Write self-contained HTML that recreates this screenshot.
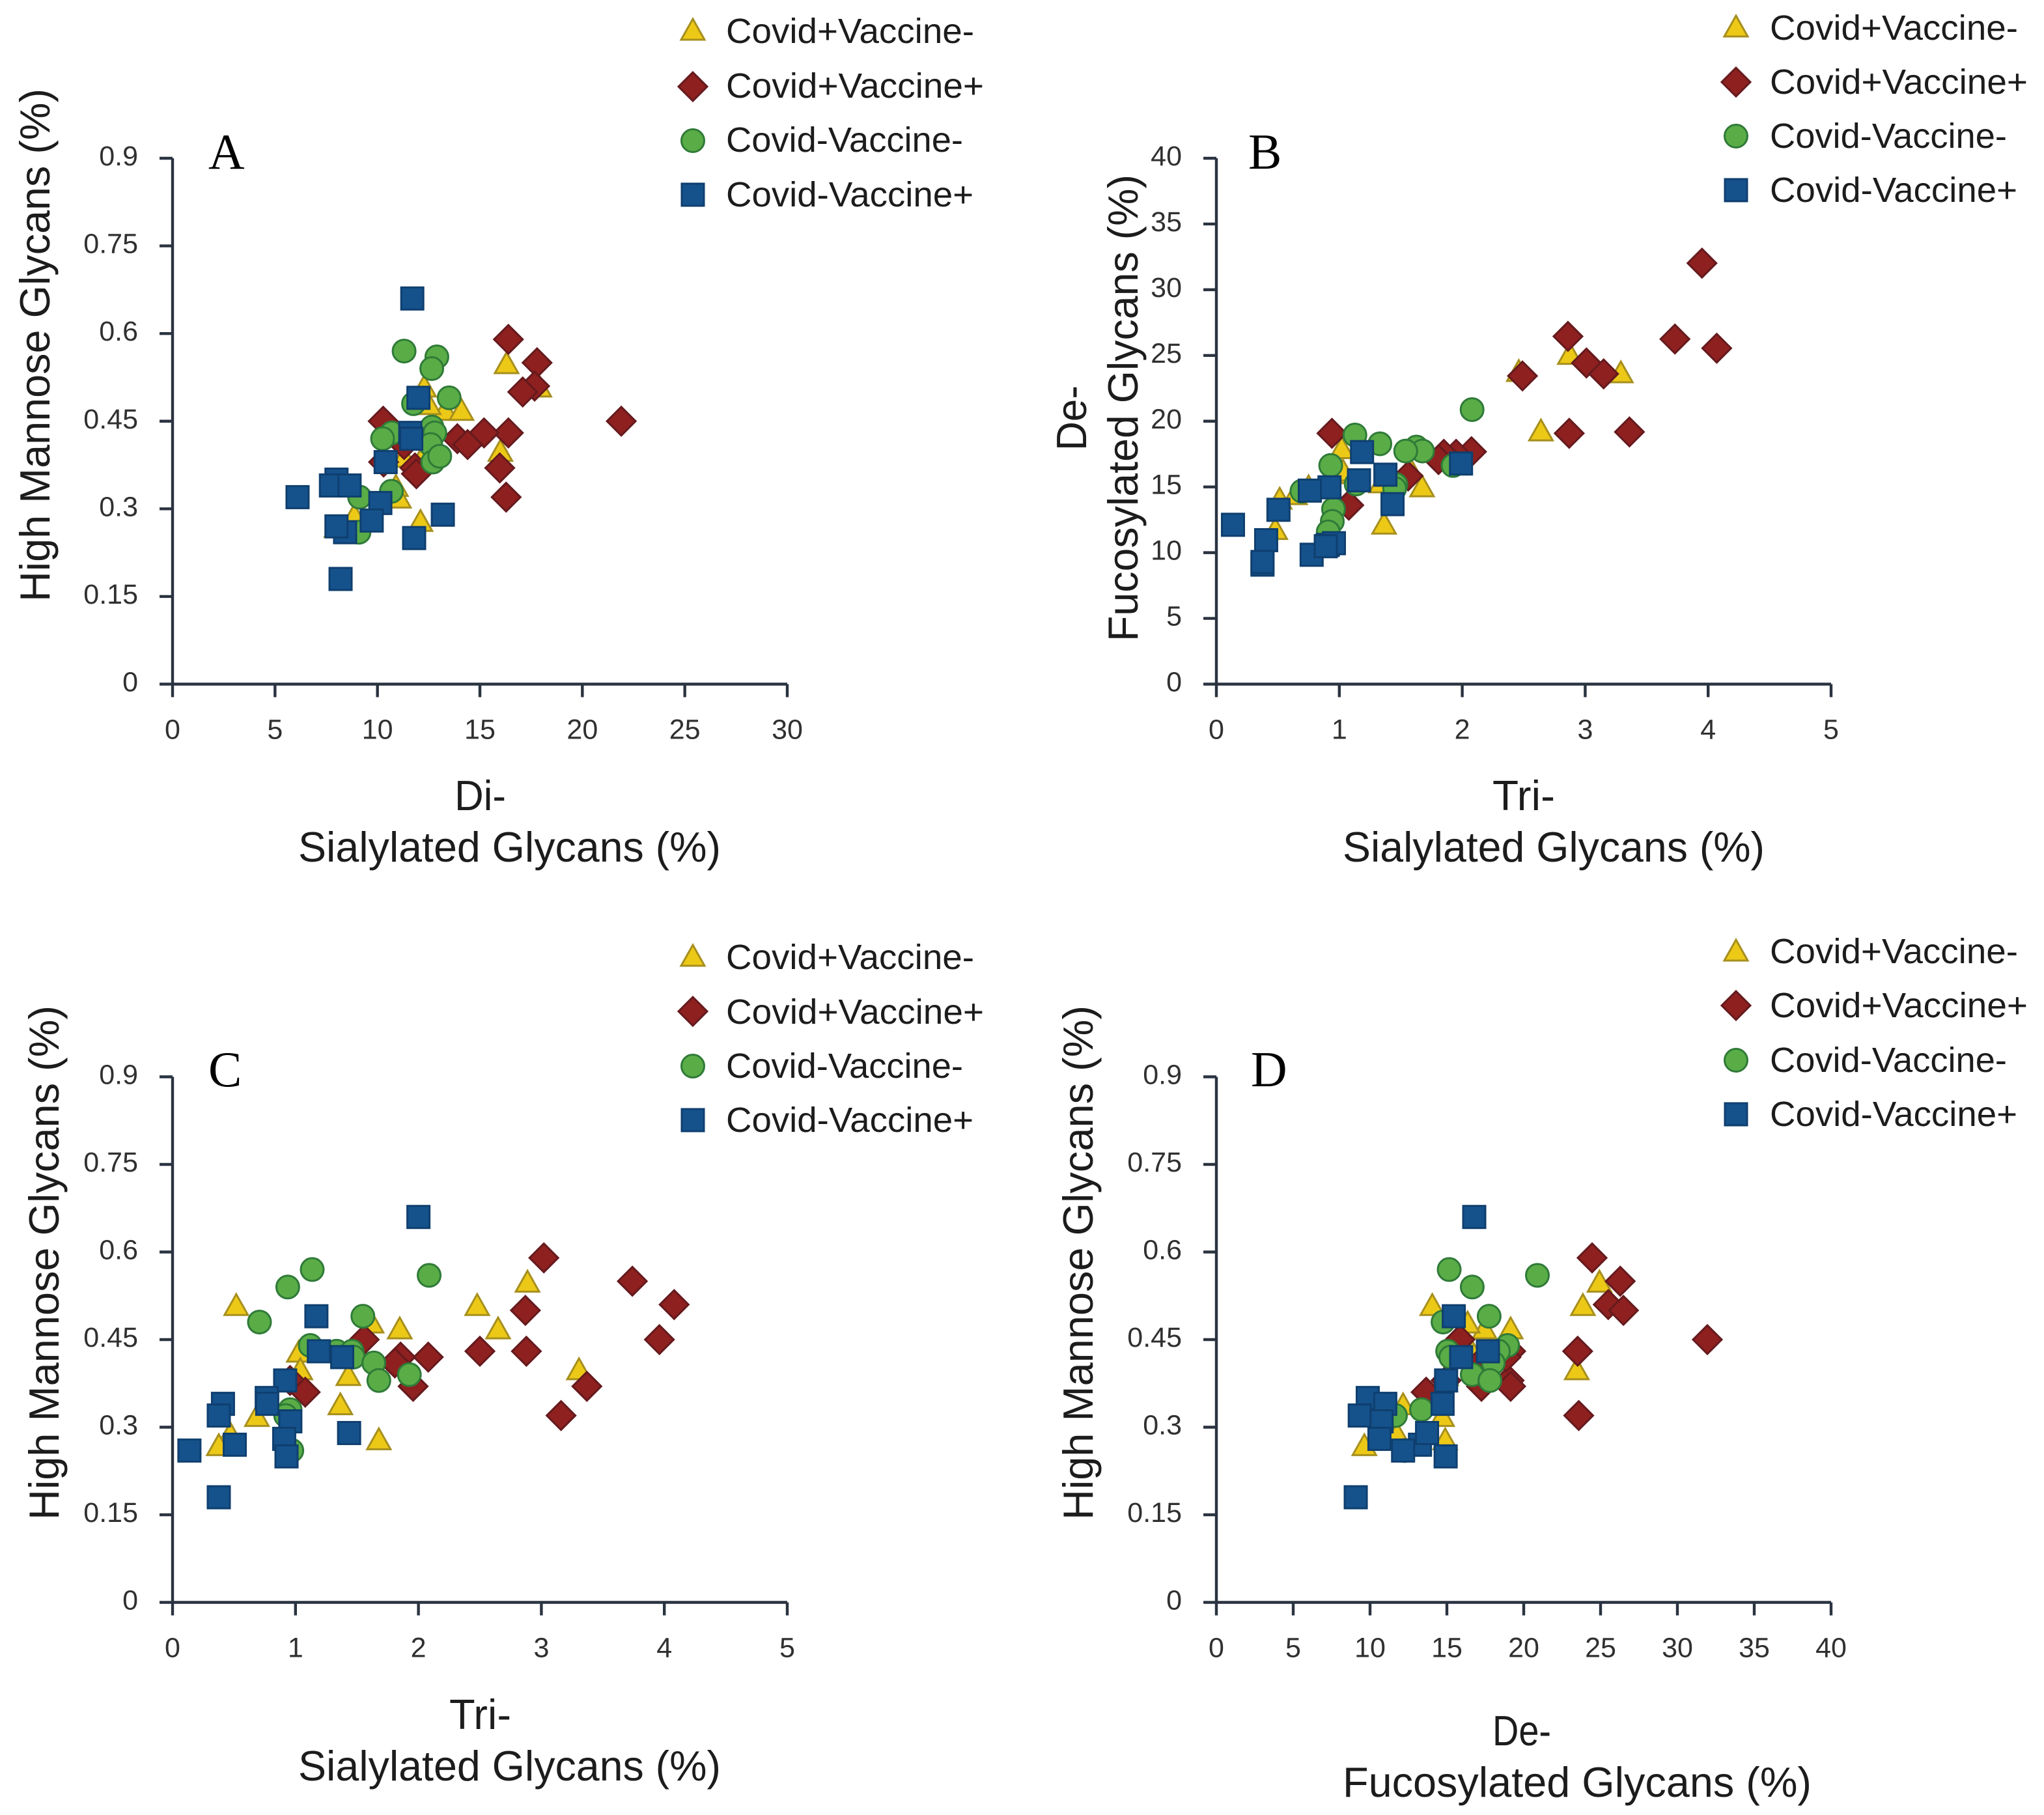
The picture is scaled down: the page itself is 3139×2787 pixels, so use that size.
<!DOCTYPE html>
<html lang="en">
<head>
<meta charset="utf-8">
<title>Glycan scatter panels</title>
<style>
html,body{margin:0;padding:0;background:#fff;}
svg{display:block;}
text{font-family:"Liberation Sans",sans-serif;fill:#1c1c1c;}
.title{font-size:65px;}
.legend{font-size:54px;}
.tick{font-size:43px;fill:#303030;}
.letter{font-family:"Liberation Serif",serif;font-size:77px;fill:#000;}
.tri{fill:#EDC917;stroke:#A68F1E;stroke-width:3;stroke-linejoin:miter;}
.dia{fill:#8E201F;stroke:#651A1E;stroke-width:3;}
.cir{fill:#5AAC47;stroke:#2F7A38;stroke-width:3;}
.squ{fill:#15528C;stroke:#0F3F6F;stroke-width:3;}
.axis{stroke:#2A3340;stroke-width:4.4;fill:none;}
</style>
</head>
<body>
<svg id="chart" xmlns="http://www.w3.org/2000/svg" width="3139" height="2787" viewBox="0 0 3139 2787">
<rect width="3139" height="2787" fill="#fff"/>

<g>
<text class="letter" x="320" y="259">A</text>
<text class="title" transform="translate(76,924) rotate(-90)" textLength="788" lengthAdjust="spacingAndGlyphs">High Mannose Glycans (%)</text>
<text class="title" x="698" y="1244" textLength="79" lengthAdjust="spacingAndGlyphs">Di-</text>
<text class="title" x="458" y="1323" textLength="649" lengthAdjust="spacingAndGlyphs">Sialylated Glycans (%)</text>
</g>
<g>
<text class="letter" x="1917" y="259">B</text>
<text class="title" transform="translate(1668,692) rotate(-90)" textLength="100" lengthAdjust="spacingAndGlyphs">De-</text>
<text class="title" transform="translate(1747,985) rotate(-90)" textLength="717" lengthAdjust="spacingAndGlyphs">Fucosylated Glycans (%)</text>
<text class="title" x="2292" y="1244" textLength="96" lengthAdjust="spacingAndGlyphs">Tri-</text>
<text class="title" x="2062" y="1323" textLength="648" lengthAdjust="spacingAndGlyphs">Sialylated Glycans (%)</text>
</g>
<g>
<text class="letter" x="320" y="1668">C</text>
<text class="title" transform="translate(90,2334) rotate(-90)" textLength="790" lengthAdjust="spacingAndGlyphs">High Mannose Glycans (%)</text>
<text class="title" x="690" y="2655" textLength="95" lengthAdjust="spacingAndGlyphs">Tri-</text>
<text class="title" x="458" y="2734" textLength="649" lengthAdjust="spacingAndGlyphs">Sialylated Glycans (%)</text>
</g>
<g>
<text class="letter" x="1921" y="1668">D</text>
<text class="title" transform="translate(1678,2334) rotate(-90)" textLength="790" lengthAdjust="spacingAndGlyphs">High Mannose Glycans (%)</text>
<text class="title" x="2292" y="2680" textLength="90" lengthAdjust="spacingAndGlyphs">De-</text>
<text class="title" x="2062" y="2759" textLength="720" lengthAdjust="spacingAndGlyphs">Fucosylated Glycans (%)</text>
</g>

<g>
<polygon class="tri" points="1064,29 1082,61 1046,61"/>
<text class="legend" x="1115" y="66" textLength="381" lengthAdjust="spacingAndGlyphs">Covid+Vaccine-</text>
<polygon class="dia" points="1064,111 1086,133 1064,155 1042,133"/>
<text class="legend" x="1115" y="150" textLength="396" lengthAdjust="spacingAndGlyphs">Covid+Vaccine+</text>
<circle class="cir" cx="1064" cy="216" r="17.5"/>
<text class="legend" x="1115" y="233" textLength="364" lengthAdjust="spacingAndGlyphs">Covid-Vaccine-</text>
<rect class="squ" x="1047" y="282" width="34" height="34"/>
<text class="legend" x="1115" y="317" textLength="380" lengthAdjust="spacingAndGlyphs">Covid-Vaccine+</text>
</g>
<g>
<polygon class="tri" points="2666,24 2684,56 2648,56"/>
<text class="legend" x="2718" y="61" textLength="381" lengthAdjust="spacingAndGlyphs">Covid+Vaccine-</text>
<polygon class="dia" points="2666,104 2688,126 2666,148 2644,126"/>
<text class="legend" x="2718" y="144" textLength="396" lengthAdjust="spacingAndGlyphs">Covid+Vaccine+</text>
<circle class="cir" cx="2666" cy="209" r="17.5"/>
<text class="legend" x="2718" y="227" textLength="364" lengthAdjust="spacingAndGlyphs">Covid-Vaccine-</text>
<rect class="squ" x="2649" y="275" width="34" height="34"/>
<text class="legend" x="2718" y="310" textLength="380" lengthAdjust="spacingAndGlyphs">Covid-Vaccine+</text>
</g>
<g>
<polygon class="tri" points="1064,1451 1082,1483 1046,1483"/>
<text class="legend" x="1115" y="1488" textLength="381" lengthAdjust="spacingAndGlyphs">Covid+Vaccine-</text>
<polygon class="dia" points="1064,1531 1086,1553 1064,1575 1042,1553"/>
<text class="legend" x="1115" y="1572" textLength="396" lengthAdjust="spacingAndGlyphs">Covid+Vaccine+</text>
<circle class="cir" cx="1064" cy="1637" r="17.5"/>
<text class="legend" x="1115" y="1655" textLength="364" lengthAdjust="spacingAndGlyphs">Covid-Vaccine-</text>
<rect class="squ" x="1047" y="1703" width="34" height="34"/>
<text class="legend" x="1115" y="1738" textLength="380" lengthAdjust="spacingAndGlyphs">Covid-Vaccine+</text>
</g>
<g>
<polygon class="tri" points="2666,1443 2684,1475 2648,1475"/>
<text class="legend" x="2718" y="1479" textLength="381" lengthAdjust="spacingAndGlyphs">Covid+Vaccine-</text>
<polygon class="dia" points="2666,1522 2688,1544 2666,1566 2644,1544"/>
<text class="legend" x="2718" y="1562" textLength="396" lengthAdjust="spacingAndGlyphs">Covid+Vaccine+</text>
<circle class="cir" cx="2666" cy="1628" r="17.5"/>
<text class="legend" x="2718" y="1646" textLength="364" lengthAdjust="spacingAndGlyphs">Covid-Vaccine-</text>
<rect class="squ" x="2649" y="1694" width="34" height="34"/>
<text class="legend" x="2718" y="1729" textLength="380" lengthAdjust="spacingAndGlyphs">Covid-Vaccine+</text>
</g>

<g id="plots"></g>
</svg>

<script>
// Axis tick labels
const hmTicks = ['0','0.15','0.3','0.45','0.6','0.75','0.9'];
const fucYTicks = ['0','5','10','15','20','25','30','35','40'];
const diXTicks = ['0','5','10','15','20','25','30'];
const triXTicks = ['0','1','2','3','4','5'];
const fucXTicks = ['0','5','10','15','20','25','30','35','40'];

// Panel A: Di-sialylated (x) vs High Mannose (y)
const aTriX = [16.3,17.9,12.28,13.3,14.1,12.5,11.6,16.0,11.3,12.2,10.9,11.05,8.87,8.0,12.1];
const aTriY = [0.55,0.51,0.51,0.47,0.47,0.48,0.43,0.40,0.39,0.39,0.34,0.32,0.29,0.27,0.28];
const aDiaX = [16.39,17.79,17.67,17.09,21.9,10.28,16.39,15.2,13.9,14.4,15.97,16.28,11.83,11.9,10.3,11.3];
const aDiaY = [0.59,0.55,0.51,0.50,0.45,0.45,0.43,0.43,0.42,0.41,0.37,0.32,0.37,0.36,0.38,0.41];
const aCirX = [11.3,12.9,12.65,13.5,11.76,12.66,10.7,12.8,10.25,12.6,12.7,13.04,9.13,10.68,9.1];
const aCirY = [0.57,0.56,0.54,0.49,0.48,0.44,0.43,0.43,0.42,0.41,0.38,0.39,0.32,0.33,0.26];
const aSquX = [11.7,12.0,11.6,11.65,10.4,8.0,7.73,8.64,6.1,10.14,9.72,11.79,8.42,8.0,13.19,8.2];
const aSquY = [0.66,0.49,0.43,0.42,0.38,0.35,0.34,0.34,0.32,0.31,0.28,0.25,0.26,0.27,0.29,0.18];

// Panel B: Tri-sialylated (x) vs De-fucosylated (y)
const bTriX = [2.875,2.46,2.64,3.29,1.02,1.036,1.58,1.673,1.364,0.515,0.479,0.64,1.34,1.03,0.75];
const bTriY = [25.15,23.85,19.33,23.75,17.98,16.08,16.38,15.08,12.24,14.14,11.83,14.48,15.38,16.28,15.08];
const bDiaX = [2.86,2.49,3.01,3.15,2.87,0.94,2.075,1.95,1.85,1.807,1.56,1.077,3.36,3.73,3.95,4.07];
const bDiaY = [26.45,23.44,24.43,23.6,19.08,19.08,17.68,17.48,17.48,17.08,15.83,13.61,19.18,26.25,32.02,25.55];
const bCirX = [2.08,1.127,1.33,1.627,1.677,1.54,0.93,1.925,0.696,1.137,1.46,1.45,0.953,0.943,0.91];
const bCirY = [20.88,18.95,18.28,18.03,17.73,17.73,16.63,16.63,14.68,15.22,15.18,14.88,13.31,12.38,11.58];
const bSquX = [1.99,1.185,1.16,1.375,1.433,0.92,0.76,0.505,0.135,0.405,0.375,0.375,0.775,0.906,0.956,0.89];
const bSquY = [16.78,17.65,15.5,15.93,13.69,14.97,14.72,13.26,12.12,10.95,9.09,9.29,9.84,10.59,10.72,10.49];

// Panel C: Tri-sialylated (x) vs High Mannose (y)
const cTriX = [0.518,2.478,2.887,1.848,2.648,1.619,1.027,1.039,1.43,1.365,3.306,0.686,0.47,0.376,1.678];
const cTriY = [0.51,0.51,0.55,0.47,0.47,0.48,0.43,0.40,0.39,0.34,0.40,0.32,0.29,0.27,0.28];
const cDiaX = [3.02,3.74,4.08,3.96,2.87,1.559,2.5,2.878,2.08,1.855,1.808,1.957,3.37,3.16,0.956,1.079];
const cDiaY = [0.59,0.55,0.51,0.45,0.50,0.45,0.43,0.43,0.42,0.42,0.41,0.37,0.37,0.32,0.38,0.36];
const cCirX = [1.136,0.937,2.087,0.707,1.548,1.12,1.335,1.46,1.47,1.637,1.678,1.926,0.956,0.92,0.97];
const cCirY = [0.57,0.54,0.56,0.48,0.49,0.44,0.43,0.43,0.42,0.41,0.38,0.39,0.33,0.32,0.26];
const cSquX = [2.0,1.17,1.19,1.38,0.916,0.766,0.77,0.41,0.376,0.958,0.908,0.927,0.506,0.137,1.436,0.376];
const cSquY = [0.66,0.49,0.43,0.42,0.38,0.35,0.34,0.34,0.32,0.31,0.28,0.25,0.27,0.26,0.29,0.18];

// Panel D: De-fucosylated (x) vs High Mannose (y)
const dTriX = [24.93,23.85,14.05,19.15,17.45,16.35,16.65,23.45,14.95,17.95,12.15,14.69,11.75,9.63,14.89];
const dTriY = [0.55,0.51,0.51,0.47,0.47,0.48,0.43,0.40,0.39,0.39,0.34,0.32,0.29,0.27,0.28];
const dDiaX = [24.45,26.28,25.5,26.49,23.51,15.85,19.15,17.15,19.05,19.15,17.25,13.65,23.58,18.85,31.95,14.95];
const dDiaY = [0.59,0.55,0.51,0.50,0.43,0.45,0.43,0.41,0.38,0.37,0.37,0.36,0.32,0.42,0.45,0.38];
const dCirX = [15.15,16.65,20.89,17.75,14.75,18.95,18.35,15.05,15.25,18.02,16.65,17.8,13.35,11.65,12.25];
const dCirY = [0.57,0.54,0.56,0.49,0.48,0.44,0.43,0.43,0.42,0.41,0.39,0.38,0.33,0.32,0.26];
const dSquX = [16.78,15.45,17.67,15.93,14.95,9.85,10.99,14.72,9.33,10.75,10.61,13.25,13.71,12.15,14.92,9.07];
const dSquY = [0.66,0.49,0.43,0.42,0.38,0.35,0.34,0.34,0.32,0.31,0.28,0.27,0.29,0.26,0.25,0.18];

const SVGNS = 'http://www.w3.org/2000/svg';

function make(tag, cls) {
  const el = document.createElementNS(SVGNS, tag);
  if (cls) el.setAttribute('class', cls);
  return el;
}

function drawAxes(root, p) {
  const xs = p.xTicks, ys = p.yTicks;
  const xMax = Number(xs[xs.length - 1]), yMax = Number(ys[ys.length - 1]);
  const sx = v => p.left + (v / xMax) * (p.right - p.left);
  const sy = v => p.bottom - (v / yMax) * (p.bottom - p.top);

  const yAxis = make('path', 'axis');
  
  
  yAxis.setAttribute('d', 'M' + p.left + ' ' + p.top + 'V' + p.bottom);
  root.appendChild(yAxis);

  const xAxis = make('path', 'axis');
  
  
  xAxis.setAttribute('d', 'M' + p.left + ' ' + p.bottom + 'H' + p.right);
  root.appendChild(xAxis);

  ys.forEach(t => {
    const y = sy(Number(t));
    const tick = make('path', 'axis');
    
    
    tick.setAttribute('d', 'M' + (p.left - 20) + ' ' + y + 'H' + p.left);
    root.appendChild(tick);
    const label = make('text', 'tick');
    
    
    label.setAttribute('x', p.left - 53);
    label.setAttribute('y', y + 11);
    label.setAttribute('text-anchor', 'end');
    label.textContent = t;
    root.appendChild(label);
  });

  xs.forEach(t => {
    const x = sx(Number(t));
    const tick = make('path', 'axis');
    
    
    tick.setAttribute('d', 'M' + x + ' ' + p.bottom + 'V' + (p.bottom + 20));
    root.appendChild(tick);
    const label = make('text', 'tick');
    
    
    label.setAttribute('x', x);
    label.setAttribute('y', p.bottom + 84);
    label.setAttribute('text-anchor', 'middle');
    label.textContent = t;
    root.appendChild(label);
  });

  return { sx, sy };
}

function marker(shape, cx, cy) {
  if (shape === 'tri') {
    const el = make('polygon', 'tri');
    el.setAttribute('points', cx + ',' + (cy - 16) + ' ' + (cx + 18) + ',' + (cy + 16) + ' ' + (cx - 18) + ',' + (cy + 16));
    return el;
  }
  if (shape === 'dia') {
    const el = make('polygon', 'dia');
    el.setAttribute('points', cx + ',' + (cy - 22) + ' ' + (cx + 22) + ',' + cy + ' ' + cx + ',' + (cy + 22) + ' ' + (cx - 22) + ',' + cy);
    return el;
  }
  if (shape === 'cir') {
    const el = make('circle', 'cir');
    el.setAttribute('cx', cx);
    el.setAttribute('cy', cy);
    el.setAttribute('r', 17.5);
    return el;
  }
  const el = make('rect', 'squ');
  el.setAttribute('x', cx - 17);
  el.setAttribute('y', cy - 17);
  el.setAttribute('width', 34);
  el.setAttribute('height', 34);
  return el;
}

function drawSeries(root, scales, panelId, shape, name, xs, ys) {
  const g = make('g');
  
  
  xs.forEach((v, i) => {
    const m = marker(shape, scales.sx(v), scales.sy(ys[i]));
    
    
    g.appendChild(m);
  });
  root.appendChild(g);
}

const plots = document.getElementById('plots');

function drawPanel(p, tx, ty, dx, dy, cx, cy, sx, sy) {
  const g = make('g');
  
  
  plots.appendChild(g);
  const scales = drawAxes(g, p);
  drawSeries(g, scales, p.id, 'tri', 'covid-pos-vaccine-neg', tx, ty);
  drawSeries(g, scales, p.id, 'dia', 'covid-pos-vaccine-pos', dx, dy);
  drawSeries(g, scales, p.id, 'cir', 'covid-neg-vaccine-neg', cx, cy);
  drawSeries(g, scales, p.id, 'squ', 'covid-neg-vaccine-pos', sx, sy);
}

drawPanel({id:'panel-a',left:265,right:1209,top:243,bottom:1050.5,xTicks:diXTicks,yTicks:hmTicks},aTriX,aTriY,aDiaX,aDiaY,aCirX,aCirY,aSquX,aSquY);
drawPanel({id:'panel-b',left:1868,right:2812,top:243,bottom:1050.5,xTicks:triXTicks,yTicks:fucYTicks},bTriX,bTriY,bDiaX,bDiaY,bCirX,bCirY,bSquX,bSquY);
drawPanel({id:'panel-c',left:265,right:1209,top:1653.5,bottom:2460.5,xTicks:triXTicks,yTicks:hmTicks},cTriX,cTriY,cDiaX,cDiaY,cCirX,cCirY,cSquX,cSquY);
drawPanel({id:'panel-d',left:1868,right:2812,top:1653.5,bottom:2460.5,xTicks:fucXTicks,yTicks:hmTicks},dTriX,dTriY,dDiaX,dDiaY,dCirX,dCirY,dSquX,dSquY);
</script>
</body>
</html>
